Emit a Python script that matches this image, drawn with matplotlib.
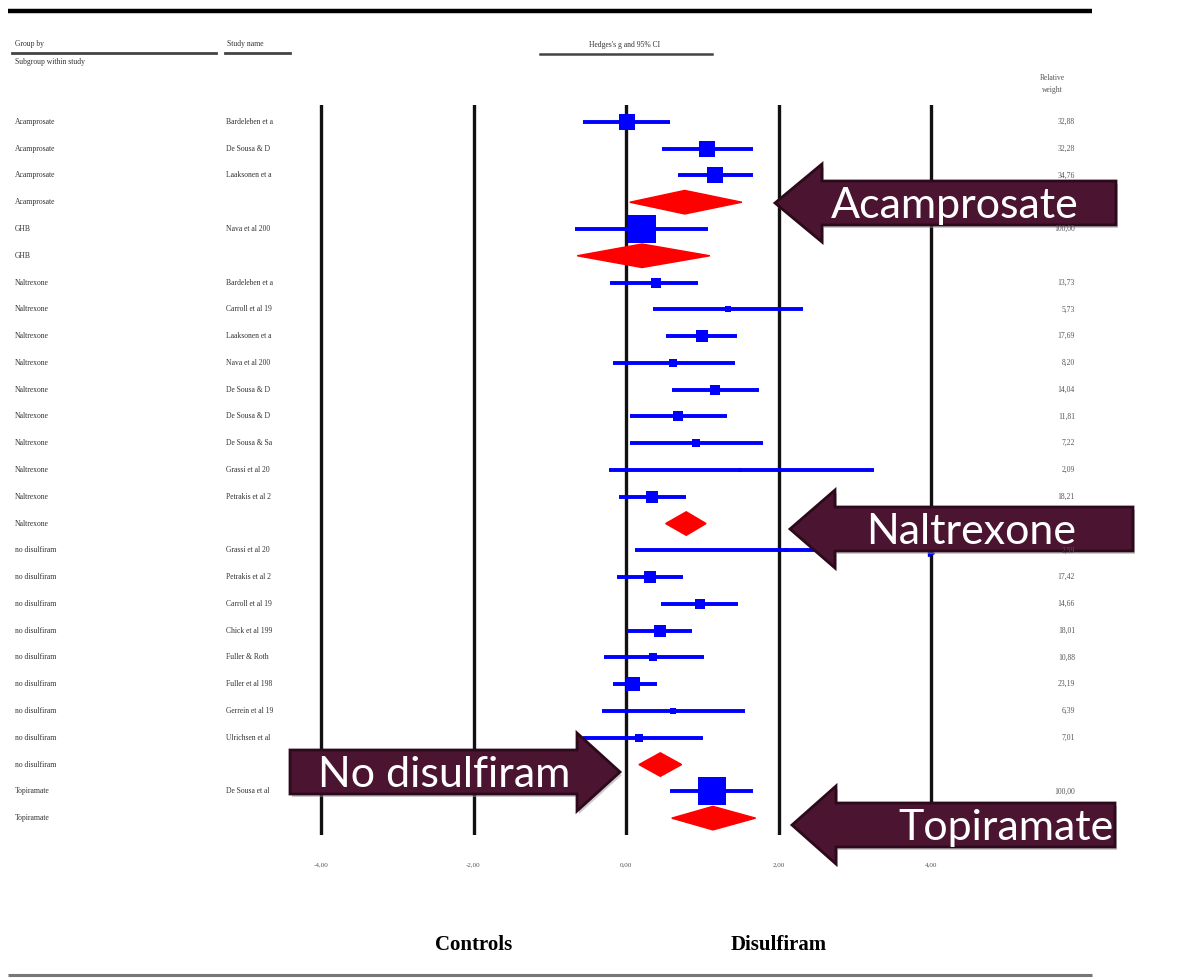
import matplotlib
matplotlib.use("Agg")
import matplotlib.pyplot as plt
from matplotlib.patches import Polygon
from matplotlib.transforms import blended_transform_factory

# forest plot data (Hedges's g, 95% CI, relative weight)
groups = (["Acamprosate"] * 4 + ["GHB"] * 2 + ["Naltrexone"] * 10
          + ["no disulfiram"] * 9 + ["Topiramate"] * 2)
studies = ["Bardeleben et a", "De Sousa & D", "Laaksonen et a", "",
           "Nava et al 200", "",
           "Bardeleben et a", "Carroll et al 19", "Laaksonen et a", "Nava et al 200",
           "De Sousa & D", "De Sousa & D", "De Sousa & Sa", "Grassi et al 20",
           "Petrakis et al 2", "",
           "Grassi et al 20", "Petrakis et al 2", "Carroll et al 19", "Chick et al 199",
           "Fuller & Roth", "Fuller et al 198", "Gerrein et al 19", "Ulrichsen et al", "",
           "De Sousa et al", ""]
est = [0.01, 1.06, 1.17, 0.77, 0.21, 0.21, 0.39, 1.34, 1.00, 0.62, 1.17, 0.68, 0.92,
       1.50, 0.34, 0.79, 2.10, 0.31, 0.97, 0.45, 0.36, 0.09, 0.62, 0.17, 0.45, 1.13, 1.14]
lo = [-0.56, 0.47, 0.68, 0.05, -0.67, -0.64, -0.21, 0.35, 0.52, -0.17, 0.60, 0.05, 0.05,
      -0.22, -0.09, 0.52, 0.12, -0.12, 0.46, 0.01, -0.29, -0.17, -0.32, -0.56, 0.17, 0.58, 0.60]
hi = [0.58, 1.67, 1.67, 1.52, 1.08, 1.10, 0.94, 2.32, 1.46, 1.43, 1.74, 1.32, 1.80,
      3.25, 0.79, 1.05, 4.00, 0.75, 1.47, 0.87, 1.02, 0.41, 1.56, 1.01, 0.73, 1.67, 1.70]
weights = ["32,88", "32,28", "34,76", "", "100,00", "", "13,73", "5,73", "17,69", "8,20",
           "14,04", "11,81", "7,22", "2,09", "18,21", "", "2,59", "17,42", "14,66", "18,01",
           "10,88", "23,19", "6,39", "7,01", "", "100,00", ""]
xticks = [-4, -2, 0, 2, 4]
xticklabels = ["-4,00", "-2,00", "0,00", "2,00", "4,00"]

callouts = ["Acamprosate", "Naltrexone", "No disulfiram", "Topiramate"]

W, H = 1192, 980
fig = plt.figure(figsize=(W / 100, H / 100), dpi=100)

# main forest axes (x in effect units, y in rows)
ax = fig.add_axes([300 / W, 1 - 835 / H, 660 / W, 730 / H])
ax.set_xlim((300 - 626) / 76.25, (960 - 626) / 76.25)
ax.set_ylim(27.63, 0.37)
for s in ax.spines.values():
    s.set_visible(False)
ax.set_yticks([])
ax.set_xticks(xticks)
ax.set_xticklabels(xticklabels, fontsize=5, color="#555", family="Liberation Serif")
ax.tick_params(axis="x", length=0, pad=20)
for t in xticks:
    ax.axvline(t, color="#111111", lw=2.4, zorder=1)

serif = "Liberation Serif"
for i in range(len(groups)):
    y = i + 1
    if studies[i] == "":
        d = 0.44
        ax.add_patch(Polygon([[lo[i], y], [est[i], y - d], [hi[i], y], [est[i], y + d]],
                             closed=True, color="#ff0000", zorder=3))
    else:
        ax.plot([lo[i], hi[i]], [y, y], color="#0000ff", lw=2.8, solid_capstyle="butt",
                zorder=3)
        w = float(weights[i].replace(",", "."))
        ax.plot(est[i], y, marker="s", color="#0000ff", markersize=1.95 * w ** 0.5,
                markeredgewidth=0, zorder=4)
ax.plot(4.0, 17.1, marker=">", color="#0000ff", markersize=4, zorder=4, clip_on=False)

# overlay in pixel coordinates for header, labels and callouts
ov = fig.add_axes([0, 0, 1, 1], zorder=5)
ov.set_xlim(0, W)
ov.set_ylim(H, 0)
ov.axis("off")
ov.patch.set_alpha(0)

rows = blended_transform_factory(ov.transData, ax.transData)
for i in range(len(groups)):
    y = i + 1
    ov.text(15, y, groups[i], transform=rows, fontsize=5.5, family=serif,
            color="#333", va="center")
    ov.text(226, y, studies[i], transform=rows, fontsize=5.5, family=serif,
            color="#333", va="center")
    ov.text(1075, y, weights[i], transform=rows, fontsize=5.5, family=serif,
            color="#555", va="center", ha="right")

# header
ov.plot([8, 1092], [11, 11], color="black", lw=3.2, solid_capstyle="butt")
ov.plot([8, 1092], [975, 975], color="#777", lw=2.2, solid_capstyle="butt")
ov.text(15, 48, "Group by", fontsize=5.5, family=serif, color="#333", va="bottom")
ov.plot([12, 216], [53, 53], color="#444", lw=2.0)
ov.text(15, 62, "Subgroup within study", fontsize=5.5, family=serif, color="#333",
        va="center")
ov.text(227, 48, "Study name", fontsize=5.5, family=serif, color="#333", va="bottom")
ov.plot([225, 290], [53, 53], color="#444", lw=2.0)
ov.text(625, 49, "Hedges's g and 95% CI", fontsize=5.5, family=serif, color="#333",
        va="bottom", ha="center")
ov.plot([540, 712], [54, 54], color="#444", lw=1.8)
ov.text(1052, 84, "Relative\nweight", fontsize=5.5, family=serif, color="#555",
        va="center", ha="center", linespacing=1.6)

# bottom captions
capt = blended_transform_factory(ax.transData, ov.transData)
ov.text(-2, 945, "Controls", transform=capt, fontsize=15, fontweight="bold",
        family=serif, ha="center", va="center")
ov.text(2, 945, "Disulfiram", transform=capt, fontsize=15, fontweight="bold",
        family=serif, ha="center", va="center")


def callout(text, tip_x, tip_y, head_x, body_end, text_x, head_h=39, body_h=22):
    pts = [(tip_x, tip_y), (head_x, tip_y - head_h), (head_x, tip_y - body_h),
           (body_end, tip_y - body_h), (body_end, tip_y + body_h),
           (head_x, tip_y + body_h), (head_x, tip_y + head_h)]
    shadow = [(x + 2, y + 3) for x, y in pts]
    ov.add_patch(Polygon(shadow, closed=True, facecolor="#999", edgecolor="none",
                         alpha=0.5))
    ov.add_patch(Polygon(pts, closed=True, facecolor="#4b1431", edgecolor="#2c0a1b",
                         lw=2.0, joinstyle="miter"))
    ov.text(text_x, tip_y + 3, text, color="white", fontsize=31, family="Lato",
            ha="center", va="center")


callout(callouts[0], 775, 203, 822, 1116, 955)
callout(callouts[1], 790, 529, 835, 1133, 971)
callout(callouts[2], 620, 772, 577, 290, 444)
callout(callouts[3], 792, 825, 836, 1115, 1006)

fig.savefig("out.png", dpi=100)
